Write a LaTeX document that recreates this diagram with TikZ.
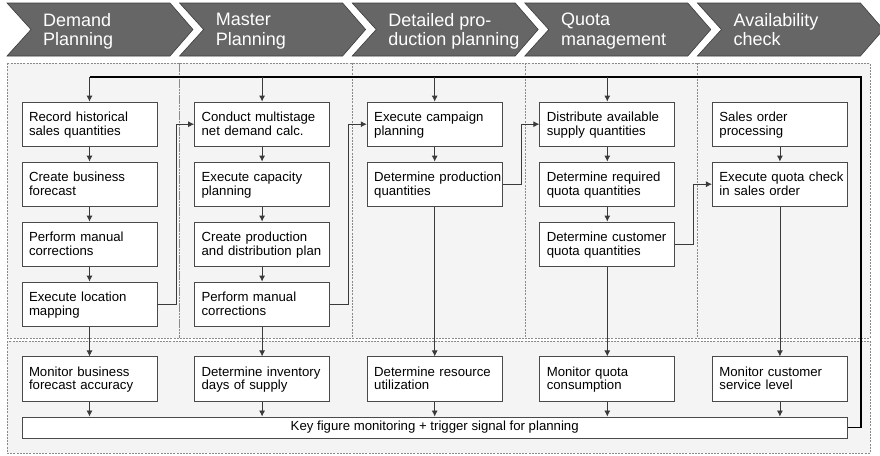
\documentclass[tikz,border=0pt]{standalone}
\usepackage{fontspec}
\setmainfont{Liberation Sans}
\usetikzlibrary{arrows.meta}
\definecolor{chevfill}{HTML}{666666}
\definecolor{chevline}{HTML}{3C3C3C}
\definecolor{lanefill}{HTML}{F4F4F4}
\definecolor{laneline}{HTML}{8A8A8A}
\definecolor{boxline}{HTML}{4A4A4A}
\definecolor{arrline}{HTML}{3A3A3A}

\begin{document}
\begin{tikzpicture}[x=1pt,y=-1pt]

\tikzset{
  chev/.style={fill=chevfill, draw=chevline, line width=0.6pt},
  head/.style={anchor=north west, inner sep=0pt, align=left, text=white, font=\fontsize{18}{19.5}\selectfont, execute at begin node=\strut},
  lane/.style={fill=lanefill, draw=laneline, line width=0.6pt, dash pattern=on 2pt off 1.2pt},
  box/.style={draw=boxline, fill=white, line width=0.9pt, text width=121pt, inner xsep=7pt, minimum height=44.3pt, align=left, font=\fontsize{13.2}{13.4}\selectfont, execute at begin node={\rule{0pt}{12.3pt}}, execute at end node=\strut},
  bar/.style={draw=boxline, fill=white, line width=0.9pt, minimum width=825pt, minimum height=21pt, inner sep=0pt, font=\fontsize{13.2}{13.4}\selectfont},
  arr/.style={draw=arrline, line width=0.8pt, -{Latex[length=6pt,width=6pt]}},
  fb/.style={draw=black, line width=1.4pt}
}

\useasboundingbox (0,0) rectangle (880,455);

\draw[chev] (7,3) -- ++(163,0) -- ++(23,26.5) -- ++(-23,26.5) -- ++(-163,0) -- ++(24,-26.5) -- cycle;
\draw[chev] (179.6,3) -- ++(163,0) -- ++(23,26.5) -- ++(-23,26.5) -- ++(-163,0) -- ++(24,-26.5) -- cycle;
\draw[chev] (352.2,3) -- ++(163,0) -- ++(23,26.5) -- ++(-23,26.5) -- ++(-163,0) -- ++(24,-26.5) -- cycle;
\draw[chev] (524.8,3) -- ++(163,0) -- ++(23,26.5) -- ++(-23,26.5) -- ++(-163,0) -- ++(24,-26.5) -- cycle;
\draw[chev] (697.4,3) -- ++(163,0) -- ++(23,26.5) -- ++(-23,26.5) -- ++(-163,0) -- ++(24,-26.5) -- cycle;
\node[head] (H_1) at (43,13) {Demand\\Planning};
\node[head] (H_2) at (215.6,13) {Master\\Planning};
\node[head] (H_3) at (388.2,13) {Detailed pro-\\duction planning};
\node[head] (H_4) at (560.8,13) {Quota\\management};
\node[head] (H_5) at (733.4,13) {Availability\\check};

\draw[lane] (7,63) rectangle (179.6,338);
\draw[lane] (179.6,63) rectangle (352.2,338);
\draw[lane] (352.2,63) rectangle (524.8,338);
\draw[lane] (524.8,63) rectangle (697.4,338);
\draw[lane] (697.4,63) rectangle (870,338);
\draw[lane] (7,341) rectangle (870,453);

\node[box] (Dp_1) at (89.5,124.2) {Record historical\\sales quantities};
\node[box] (Dp_2) at (89.5,184.2) {Create business\\forecast};
\node[box] (Dp_3) at (89.5,244.2) {Perform manual\\corrections};
\node[box] (Dp_4) at (89.5,304.2) {Execute location\\mapping};
\node[box] (Dp_k) at (89.5,379) {Monitor business\\forecast accuracy};

\node[box] (Mp_1) at (262.1,124.2) {Conduct multistage\\net demand calc.};
\node[box] (Mp_2) at (262.1,184.2) {Execute capacity\\planning};
\node[box] (Mp_3) at (262.1,244.2) {Create production\\and distribution plan};
\node[box] (Mp_4) at (262.1,304.2) {Perform manual\\corrections};
\node[box] (Mp_k) at (262.1,379) {Determine inventory\\days of supply};

\node[box] (Pp_1) at (434.7,124.2) {Execute campaign\\planning};
\node[box] (Pp_2) at (434.7,184.2) {\mbox{Determine production}\\quantities};
\node[box] (Pp_k) at (434.7,379) {Determine resource\\utilization};

\node[box] (Qm_1) at (607.3,124.2) {Distribute available\\supply quantities};
\node[box] (Qm_2) at (607.3,184.2) {Determine required\\quota quantities};
\node[box] (Qm_3) at (607.3,244.2) {Determine customer\\quota quantities};
\node[box] (Qm_k) at (607.3,379) {Monitor quota\\consumption};

\node[box] (Ac_1) at (779.9,124.2) {Sales order\\processing};
\node[box] (Ac_2) at (779.9,184.2) {\mbox{Execute quota check}\\in sales order};
\node[box] (Ac_k) at (779.9,379) {Monitor customer\\service level};

\node[bar] (KF) at (434.7,427.5) {Key figure monitoring + trigger signal for planning};

\draw[arr] (Dp_1) -- (Dp_2);
\draw[arr] (Dp_2) -- (Dp_3);
\draw[arr] (Dp_3) -- (Dp_4);
\draw[arr] (Dp_4) -- (Dp_k);
\draw[arr] (Dp_k) -- (Dp_k |- KF.north);

\draw[arr] (Mp_1) -- (Mp_2);
\draw[arr] (Mp_2) -- (Mp_3);
\draw[arr] (Mp_3) -- (Mp_4);
\draw[arr] (Mp_4) -- (Mp_k);
\draw[arr] (Mp_k) -- (Mp_k |- KF.north);

\draw[arr] (Pp_1) -- (Pp_2);
\draw[arr] (Pp_2) -- (Pp_k);
\draw[arr] (Pp_k) -- (Pp_k |- KF.north);

\draw[arr] (Qm_1) -- (Qm_2);
\draw[arr] (Qm_2) -- (Qm_3);
\draw[arr] (Qm_3) -- (Qm_k);
\draw[arr] (Qm_k) -- (Qm_k |- KF.north);

\draw[arr] (Ac_1) -- (Ac_2);
\draw[arr] (Ac_2) -- (Ac_k);
\draw[arr] (Ac_k) -- (Ac_k |- KF.north);

\draw[arr] (Dp_4.east) -- ++(18.5,0) |- (Mp_1.west);
\draw[arr] (Mp_4.east) -- ++(18.5,0) |- (Pp_1.west);
\draw[arr] (Pp_2.east) -- ++(18.5,0) |- (Qm_1.west);
\draw[arr] (Qm_3.east) -- ++(18.5,0) |- (Ac_2.west);

\coordinate (Lp) at (861,77);
\draw[fb] (KF.east) -| (Lp) -- (Dp_1.north |- Lp);
\draw[arr] (Dp_1.north |- Lp) -- (Dp_1);
\draw[arr] (Mp_1.north |- Lp) -- (Mp_1);
\draw[arr] (Pp_1.north |- Lp) -- (Pp_1);
\draw[arr] (Qm_1.north |- Lp) -- (Qm_1);

\end{tikzpicture}
\end{document}
